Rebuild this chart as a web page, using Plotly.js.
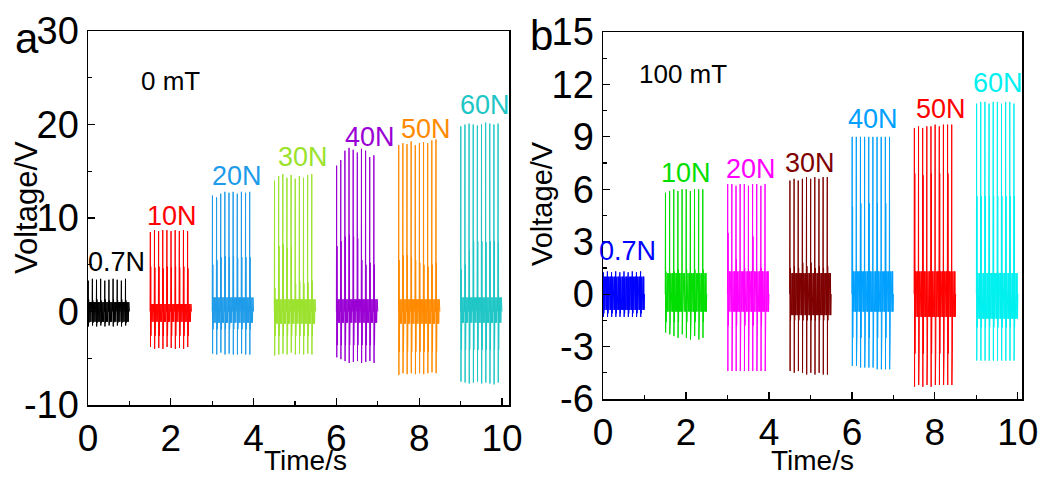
<!DOCTYPE html>
<html>
<head>
<meta charset="utf-8">
<script src="https://cdn.plot.ly/plotly-3.0.1.min.js"></script>
<style>
html,body{margin:0;padding:0;background:#fff;}
#chart{width:1052px;height:478px;}
</style>
</head>
<body>
<div id="chart"></div>
<script>
// ---------- data ----------
const FORCE_LABELS = ['0.7N', '10N', '20N', '30N', '40N', '50N', '60N'];
const BURST_START = [0, 1.5, 3, 4.5, 6, 7.5, 9];   // s, each burst lasts 1 s
const CYCLES_PER_BURST = 10;

const A_Y_TICKVALS = [-10, 0, 10, 20, 30];
const A_Y_TICKTEXT = ['-10', '0', '10', '20', '30'];
const B_Y_TICKVALS = [-6, -3, 0, 3, 6, 9, 12, 15];
const B_Y_TICKTEXT = ['-6', '-3', '0', '3', '6', '9', '12', '15'];

// Panel a : 0 mT
const A_MAIN_PEAK = [
  [3.3, 3.5, 3.4, 3.5, 3.3, 3.4, 3.5, 3.4, 3.3, 3.5],
  [8.5, 8.7, 8.6, 8.7, 8.7, 8.6, 8.7, 8.6, 8.7, 8.6],
  [12.4, 12.2, 12.6, 12.8, 12.7, 12.8, 12.6, 12.8, 12.7, 12.8],
  [14.0, 14.5, 14.7, 14.3, 14.6, 14.2, 14.5, 14.3, 14.6, 14.7],
  [15.6, 16.2, 17.2, 17.5, 17.3, 17.0, 17.4, 17.2, 16.5, 16.7],
  [17.8, 18.0, 17.9, 18.2, 17.8, 18.0, 18.1, 18.0, 18.3, 18.4],
  [19.8, 20.0, 20.1, 20.0, 19.9, 20.0, 20.2, 20.1, 20.0, 20.1]
];
const A_SECOND_PEAK = [
  [1.3, 1.2, 1.3, 1.2, 1.3, 1.2, 1.3, 1.2, 1.3, 1.2],
  [4.8, 4.7, 4.8, 4.6, 4.8, 4.7, 4.8, 4.7, 4.8, 4.6],
  [5.0, 5.5, 5.8, 5.9, 5.8, 5.9, 5.7, 5.8, 5.8, 5.8],
  [2.5, 7.0, 7.2, 6.8, 7.0, 3.0, 3.2, 3.0, 3.1, 3.3],
  [7.0, 7.5, 8.0, 8.2, 8.0, 7.8, 5.5, 5.0, 5.2, 5.0],
  [5.5, 6.0, 6.0, 5.8, 5.5, 5.2, 5.0, 4.8, 5.0, 5.2],
  [4.5, 5.0, 6.5, 7.5, 7.5, 7.5, 7.4, 7.5, 7.5, 7.4]
];
const A_TROUGH = [
  [-1.6, -1.5, -1.6, -1.5, -1.6, -1.5, -1.6, -1.5, -1.6, -1.5],
  [-3.8, -4.0, -3.9, -4.0, -3.8, -3.9, -4.0, -3.9, -4.0, -3.8],
  [-4.5, -4.6, -4.4, -4.6, -4.5, -4.6, -4.6, -4.5, -4.6, -4.6],
  [-4.7, -4.6, -4.5, -4.6, -4.4, -4.6, -4.5, -4.6, -4.5, -4.6],
  [-4.9, -5.1, -5.3, -5.5, -5.4, -5.3, -5.5, -5.4, -5.3, -5.5],
  [-6.8, -6.6, -6.7, -6.6, -6.7, -6.6, -6.7, -6.6, -6.5, -6.6],
  [-7.5, -7.6, -7.7, -7.6, -7.5, -7.7, -7.6, -7.7, -7.8, -7.6]
];
const A_SECOND_TROUGH = [-1.2, -2.6, -1.9, -2.6, -3.6, -4.3, -4.1];
const A_BAND_HIGH = [1.0, 0.8, 1.5, 1.3, 1.3, 1.3, 1.5];
const A_BAND_LOW = [-1.1, -1.1, -1.2, -1.3, -1.2, -1.3, -1.2];

// Panel b : 100 mT
const B_MAIN_PEAK = [
  [1.25, 1.3, 1.25, 1.3, 1.25, 1.3, 1.25, 1.3, 1.25, 1.3],
  [5.8, 5.9, 6.0, 5.9, 6.0, 6.0, 5.9, 6.0, 6.0, 6.0],
  [6.3, 6.3, 6.2, 6.3, 6.3, 6.2, 6.3, 6.3, 6.2, 6.3],
  [6.5, 6.6, 6.5, 6.6, 6.7, 6.6, 6.7, 6.6, 6.7, 6.7],
  [9.0, 9.0, 9.0, 9.0, 9.0, 9.0, 9.0, 9.0, 9.0, 9.0],
  [9.5, 9.6, 9.5, 9.6, 9.6, 9.7, 9.6, 9.7, 9.7, 9.7],
  [10.9, 11.0, 11.0, 10.9, 11.0, 11.0, 10.9, 11.0, 11.0, 10.9]
];
const B_SECOND_PEAK = [
  [0.9, 0.9, 0.9, 0.9, 0.9, 0.9, 0.9, 0.9, 0.9, 0.9],
  [1.3, 1.4, 1.3, 1.4, 1.3, 1.4, 1.3, 1.4, 1.3, 1.4],
  [3.5, 2.5, 2.0, 1.6, 1.5, 1.5, 3.3, 1.6, 1.5, 1.5],
  [1.5, 1.6, 1.5, 1.8, 1.6, 1.8, 1.5, 1.6, 1.5, 1.6],
  [5.0, 5.2, 5.2, 5.1, 5.2, 5.3, 5.2, 5.3, 5.2, 5.3],
  [6.9, 6.9, 6.8, 6.9, 6.9, 6.9, 6.9, 6.9, 6.9, 6.9],
  [5.6, 5.6, 5.6, 5.6, 5.6, 5.6, 5.6, 5.6, 5.6, 5.6]
];
const B_TROUGH = [
  [-1.3, -1.3, -1.3, -1.3, -1.3, -1.3, -1.3, -1.3, -1.3, -1.3],
  [-2.2, -2.3, -2.4, -2.5, -2.3, -2.5, -2.6, -2.4, -2.6, -2.5],
  [-4.4, -4.4, -4.4, -4.4, -4.4, -4.4, -4.4, -4.4, -4.4, -4.4],
  [-4.4, -4.5, -4.4, -4.5, -4.6, -4.5, -4.6, -4.5, -4.6, -4.6],
  [-4.1, -4.1, -4.2, -4.2, -4.2, -4.2, -4.3, -4.3, -4.3, -4.3],
  [-5.3, -5.2, -5.3, -5.2, -5.3, -5.2, -5.2, -5.2, -5.2, -5.2],
  [-3.8, -3.8, -3.8, -3.8, -3.8, -3.8, -3.8, -3.8, -3.8, -3.8]
];
const B_SECOND_TROUGH = [-1.1, -1.6, -1.8, -1.5, -2.5, -3.4, -1.9];
const B_BAND_HIGH = [1.0, 1.2, 1.3, 1.2, 1.3, 1.3, 1.2];
const B_BAND_LOW = [-0.9, -1.0, -1.0, -1.2, -1.0, -1.3, -1.4];

const A_COLORS = ['#000000', '#ff0000', '#1e9be9', '#9be22d', '#9a00d4', '#ff8a00', '#1fc6c6'];
const B_COLORS = ['#0000ff', '#00dd00', '#ff00ff', '#7f0000', '#00a0ff', '#ff0000', '#00f0f0'];

// ---------- build the signal traces ----------
function burstTrace(k, main, second, trough, trough2, hi, lo, ringCount, color, xa, ya) {
  const x = [], y = [];
  const period = 1 / CYCLES_PER_BURST;
  const step = 0.066 / ringCount;
  for (let i = 0; i < CYCLES_PER_BURST; i++) {
    const t0 = BURST_START[k] + i * period;
    x.push(t0, t0 + 0.006, t0 + 0.010, t0 + 0.016, t0 + 0.021, t0 + 0.027);
    y.push(0, main[k][i], trough[k][i], second[k][i], trough2[k], 0);
    for (let j = 0; j < ringCount; j++) {
      x.push(t0 + 0.033 + j * step);
      y.push(j % 2 === 0 ? hi[k] : lo[k]);
    }
  }
  x.push(BURST_START[k] + 1.0); y.push(0);
  return {
    x: x, y: y, type: 'scatter', mode: 'lines', xaxis: xa, yaxis: ya,
    line: {color: color, width: 1}, hoverinfo: 'skip', showlegend: false
  };
}

const traces = [];
for (let k = 0; k < FORCE_LABELS.length; k++) {
  traces.push(burstTrace(k, A_MAIN_PEAK, A_SECOND_PEAK, A_TROUGH, A_SECOND_TROUGH,
    A_BAND_HIGH, A_BAND_LOW, 5, A_COLORS[k], 'x', 'y'));
  traces.push(burstTrace(k, B_MAIN_PEAK, B_SECOND_PEAK, B_TROUGH, B_SECOND_TROUGH,
    B_BAND_HIGH, B_BAND_LOW, 8, B_COLORS[k], 'x2', 'y2'));
}

// ---------- layout ----------
const FONT = 'Arial, "Liberation Sans", sans-serif';
function axisCommon(extra) {
  return Object.assign({
    showline: true, mirror: true, linecolor: '#000', linewidth: 1.5,
    showgrid: false, zeroline: false,
    ticks: 'inside', ticklen: 7, tickwidth: 1.2, tickcolor: '#000',
    tickfont: {family: FONT, size: 38, color: '#000'},
    fixedrange: true
  }, extra);
}

const A_LABEL_POS = [[0.68, 5.3], [2.03, 10.2], [3.6, 14.5], [5.19, 16.5], [6.81, 18.7], [8.16, 19.5], [9.59, 22.1]];
const B_LABEL_POS = [[0.58, 2.47], [2.0, 6.95], [3.57, 7.17], [5.0, 7.5], [6.5, 10.0], [8.14, 10.6], [9.52, 12.1]];

const annotations = [];
for (let k = 0; k < FORCE_LABELS.length; k++) {
  annotations.push({xref: 'x', yref: 'y', x: A_LABEL_POS[k][0], y: A_LABEL_POS[k][1],
    text: FORCE_LABELS[k], showarrow: false, font: {family: FONT, size: 27, color: A_COLORS[k]}});
  annotations.push({xref: 'x2', yref: 'y2', x: B_LABEL_POS[k][0], y: B_LABEL_POS[k][1],
    text: FORCE_LABELS[k], showarrow: false, font: {family: FONT, size: 27, color: B_COLORS[k]}});
}
function paperText(px, py, text, size, angle) {
  return {xref: 'paper', yref: 'paper', x: px / 1052, y: 1 - py / 478, xanchor: 'center', yanchor: 'middle',
    text: text, textangle: angle || 0, showarrow: false, font: {family: FONT, size: size, color: '#000'}};
}
annotations.push(
  {xref: 'x', yref: 'y', x: 2.0, y: 24.7, text: '0 mT', showarrow: false, font: {family: FONT, size: 26, color: '#000'}},
  {xref: 'x2', yref: 'y2', x: 1.93, y: 12.6, text: '100 mT', showarrow: false, font: {family: FONT, size: 26, color: '#000'}},
  paperText(27, 38, 'a', 42),
  paperText(541, 36, 'b', 42),
  paperText(26, 208, 'Voltage/V', 31, -90),
  paperText(542, 204, 'Voltage/V', 29, -90),
  paperText(305, 460, 'Time/s', 28),
  paperText(812, 460, 'Time/s', 28)
);

const X_TICKFONT = {family: FONT, size: 37, color: '#000'};
const layout = {
  width: 1052, height: 478,
  margin: {l: 0, r: 0, t: 0, b: 0},
  paper_bgcolor: '#fff', plot_bgcolor: '#fff',
  showlegend: false,
  xaxis: axisCommon({domain: [88 / 1052, 509 / 1052], anchor: 'y', range: [0, 10.17], tick0: 0, dtick: 2,
    tickfont: X_TICKFONT,
    minor: {dtick: 1, ticks: 'inside', ticklen: 4, tickcolor: '#000'}}),
  yaxis: axisCommon({domain: [1 - 405 / 478, 1 - 31 / 478], anchor: 'x', range: [-10, 30],
    tickmode: 'array', tickvals: A_Y_TICKVALS, ticktext: A_Y_TICKTEXT,
    minor: {tickmode: 'linear', tick0: -10, dtick: 5, ticks: 'inside', ticklen: 4, tickcolor: '#000'}}),
  xaxis2: axisCommon({domain: [603 / 1052, 1022 / 1052], anchor: 'y2', range: [0, 10.1], tick0: 0, dtick: 2,
    tickfont: X_TICKFONT,
    minor: {dtick: 1, ticks: 'inside', ticklen: 4, tickcolor: '#000'}}),
  yaxis2: axisCommon({domain: [1 - 399 / 478, 1 - 32 / 478], anchor: 'x2', range: [-6, 15],
    tickmode: 'array', tickvals: B_Y_TICKVALS, ticktext: B_Y_TICKTEXT,
    minor: {tickmode: 'linear', tick0: -6, dtick: 1.5, ticks: 'inside', ticklen: 4, tickcolor: '#000'}}),
  annotations: annotations
};

Plotly.newPlot('chart', traces, layout, {displayModeBar: false, staticPlot: true});
</script>
</body>
</html>
